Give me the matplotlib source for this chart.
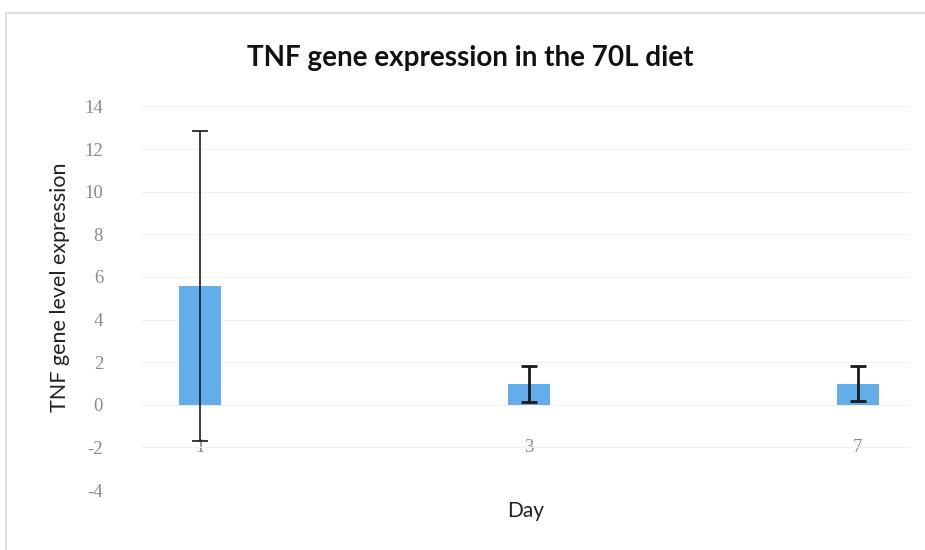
import numpy as np
import matplotlib.pyplot as plt
from matplotlib.patches import Rectangle

# TNF expression per sampling day (mean and error)
days = ["1", "3", "7"]
expression = [5.58, 0.97, 0.98]
errors = [7.26, 0.83, 0.82]
yticks = [-4, -2, 0, 2, 4, 6, 8, 10, 12, 14]

fig = plt.figure(figsize=(9.25, 5.5), dpi=100)
ax = fig.add_axes([0.152, 0.109, 0.832, 0.709])

x = np.arange(len(days))
ax.bar(x, expression, width=0.128, color="#63ADEA", zorder=2)
for xi, val, err, lw in zip(x, expression, errors, [1.2, 2.0, 2.0]):
    ax.errorbar(xi, val, yerr=err, fmt="none", ecolor="#1a1a1a",
                elinewidth=lw, capsize=6, capthick=lw, zorder=3)

ax.set_xlim(-0.18, 2.16)
ax.set_ylim(-4, 14.3)
ax.set_yticks(yticks)
ax.set_yticklabels([str(t) for t in yticks], family="Liberation Serif",
                   fontsize=13.5, color="#8a8a8a")
ax.tick_params(axis="y", length=0, pad=27)
ax.set_xticks([])
ax.grid(axis="y", color="#f0f0f0", linewidth=0.8, zorder=0)
for s in ax.spines.values():
    s.set_visible(False)

# category labels sit at the -2 level
for xi, d in zip(x, days):
    ax.text(xi, -2, d, ha="center", va="center", family="Liberation Serif",
            fontsize=13.5, color="#8a8a8a", zorder=1)

ax.set_ylabel("TNF gene level expression", family="Lato", fontsize=15.5,
              color="#222222", va="center")
ax.yaxis.set_label_coords(-0.105, 0.52)
ax.set_xlabel("Day", family="Lato", fontsize=15, color="#222222", labelpad=8)
fig.text(0.508, 0.895, "TNF gene expression in the 70L diet", ha="center",
         va="center", family="Lato", fontweight="bold", fontsize=20,
         color="#111111")

fig.patches.append(Rectangle((0.006, -0.01), 1.0, 0.987, transform=fig.transFigure,
                             fill=False, edgecolor="#d9d9d9", linewidth=1.2))

fig.savefig("out.png", dpi=100)
